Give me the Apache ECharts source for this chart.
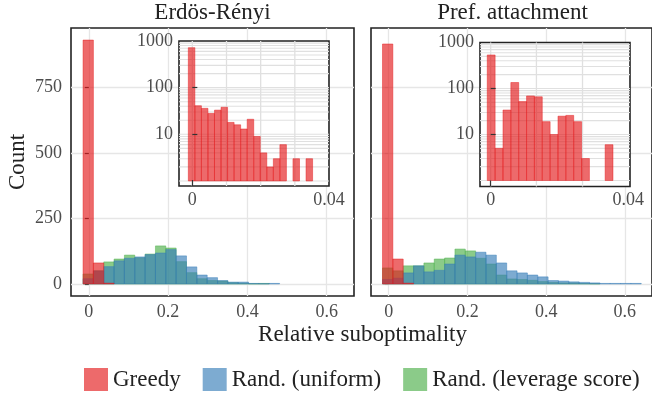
<!DOCTYPE html>
<html><head><meta charset="utf-8">
<script src="https://cdn.jsdelivr.net/npm/echarts@6/dist/echarts.min.js"></script>
<style>html,body{margin:0;padding:0;background:#fff}#c{width:652px;height:395px}</style>
</head><body><div id="c"></div>
<script>
// ---------- data ----------
const seriesNames = ['Greedy', 'Rand. (uniform)', 'Rand. (leverage score)'];
const panelTitles = ['Erdös-Rényi', 'Pref. attachment'];
const xLabelText = 'Relative suboptimality';
const yLabelText = 'Count';
const xTickValues = [0, 0.2, 0.4, 0.6];
const yTickValues = [0, 250, 500, 750];
const insetXTickValues = [0, 0.04];
const insetYTickValues = [10, 100, 1000];

// main histograms (shared bins per panel: first bin start, bin width)
const erBinStart = -0.0146, erBinWidth = 0.0261;
const erGreedy   = [930, 80, 3];
const erUniform  = [20, 50, 66, 88, 98, 103, 112, 118, 131, 107, 65, 34, 24, 13, 7, 7, 2, 1, 2];
const erLeverage = [38, 50, 84, 95, 110, 100, 114, 145, 137, 85, 43, 20, 13, 11, 5, 3, 1, 2, 0];

const paBinStart = -0.0158, paBinWidth = 0.0263;
const paGreedy   = [915, 95, 3];
const paUniform  = [17, 22, 42, 69, 46, 52, 76, 110, 103, 121, 110, 80, 50, 42, 34, 27, 13, 11, 8, 6, 4, 2, 2, 2, 2];
const paLeverage = [61, 50, 69, 69, 80, 95, 99, 133, 126, 98, 76, 34, 19, 17, 14, 9, 6, 4, 4, 2, 1, 0, 0, 0, 0];

// insets (Greedy only, log scale)
const erInsetBinStart = -0.00117, erInsetBinWidth = 0.001914;
const erInsetGreedy = [720, 41, 36, 28, 33, 38, 18, 16, 13, 21, 9, 4, 2, 3, 6, 0, 3, 0, 3];
const paInsetBinStart = -0.00099, paInsetBinWidth = 0.002284;
const paInsetGreedy = [536, 5, 34, 135, 52, 69, 66, 19, 10, 25, 26, 19, 3, 0, 0, 6];

// inset grid lines
const insetHGridValues = [1,2,3,4,5,6,7,8,9,10,20,30,40,50,60,70,80,90,100,200,300,400,500,600,700,800,900];
const erInsetVGridValues = [0, 0.01, 0.02, 0.03];
const paInsetVGridValues = [0, 0.0133, 0.0267];

// ---------- styles ----------
const FONT = "'Liberation Serif', 'DejaVu Serif', serif";
const FILL = {
  'Greedy': 'rgba(228,26,28,0.65)',
  'Rand. (uniform)': 'rgba(55,126,184,0.65)',
  'Rand. (leverage score)': 'rgba(77,175,74,0.65)'
};
const LEGEND_COLORS = ['#ed6a6b', '#7dabd1', '#8bcb89'];
const TICK_COLOR = '#4d4d4d';
const TEXT_COLOR = '#222';

function toBins(start, width, counts) {
  const out = [];
  counts.forEach((c, i) => { if (c > 0) out.push([start + i * width, start + (i + 1) * width, c]); });
  return out;
}

function hist(name, xi, yi, data, base, z) {
  const fill = FILL[name];
  return {
    type: 'custom', name, xAxisIndex: xi, yAxisIndex: yi, z, silent: true,
    data, encode: { x: [0, 1], y: 2 },
    renderItem: (p, api) => {
      const a = api.coord([api.value(0), api.value(2)]);
      const b = api.coord([api.value(1), base]);
      return { type: 'rect', shape: { x: a[0], y: a[1], width: b[0] - a[0], height: b[1] - a[1] },
               style: { fill, stroke: fill, lineWidth: 0.7 } };
    }
  };
}
function hGrid(xi, yi, vals, z) {
  return {
    type: 'custom', xAxisIndex: xi, yAxisIndex: yi, z, silent: true,
    data: vals.map(v => [0, v]), encode: { x: 0, y: 1 },
    renderItem: (p, api) => {
      const cs = p.coordSys; const y = api.coord([0, api.value(1)])[1];
      return { type: 'line', shape: { x1: cs.x, y1: y, x2: cs.x + cs.width, y2: y }, style: { stroke: '#e0e0e0', lineWidth: 1.1 } };
    }
  };
}
function vGrid(xi, yi, vals, z) {
  return {
    type: 'custom', xAxisIndex: xi, yAxisIndex: yi, z, silent: true,
    data: vals.map(v => [v, 1]), encode: { x: 0, y: 1 },
    renderItem: (p, api) => {
      const cs = p.coordSys; const x = api.coord([api.value(0), 1])[0];
      return { type: 'line', shape: { x1: x, y1: cs.y, x2: x, y2: cs.y + cs.height }, style: { stroke: '#e0e0e0', lineWidth: 1.3 } };
    }
  };
}

const labelStyle = { fontFamily: FONT, fontSize: 18, color: TICK_COLOR };
const fmt = v => String(Math.round(v * 1000) / 1000);

function mainX(gi) {
  return {
    type: 'value', gridIndex: gi, min: -0.045, max: 0.669,
    axisLine: { show: false },
    axisTick: { show: false, customValues: xTickValues },
    axisLabel: Object.assign({ customValues: xTickValues, margin: 7, formatter: fmt }, labelStyle),
    splitLine: { show: true, lineStyle: { color: '#e6e6e6', width: 1.3 } }
  };
}
function mainY(gi, showLabels) {
  return {
    type: 'value', gridIndex: gi, min: -46, max: 976,
    axisLine: { show: false },
    axisTick: { show: true, customValues: yTickValues, length: 4, lineStyle: { color: showLabels ? '#333' : '#d0d0d0', width: 1.2 } },
    axisLabel: Object.assign({ show: showLabels, customValues: yTickValues, margin: 9, formatter: fmt }, labelStyle),
    splitLine: { show: true, lineStyle: { color: '#e6e6e6', width: 1.3 } },
    name: showLabels ? yLabelText : '', nameLocation: 'middle', nameGap: 42, nameRotate: 90,
    nameTextStyle: { fontFamily: FONT, fontSize: 23, color: TEXT_COLOR }
  };
}
function insetX(gi, min, max) {
  return {
    type: 'value', gridIndex: gi, min, max, z: 6,
    axisLine: { show: false },
    axisTick: { show: true, inside: true, length: 6, customValues: [0], lineStyle: { color: '#333', width: 1.2 } },
    axisLabel: Object.assign({ customValues: insetXTickValues, margin: 5, formatter: fmt }, labelStyle),
    splitLine: { show: false }
  };
}
function insetY(gi, min, max) {
  return {
    type: 'log', logBase: 10, gridIndex: gi, min, max, z: 6,
    axisLine: { show: false },
    axisTick: { show: true, inside: true, length: 5, customValues: [10, 100], lineStyle: { color: '#333', width: 1.2 } },
    axisLabel: Object.assign({ customValues: insetYTickValues, margin: 6, formatter: v => String(Math.round(v)) }, labelStyle),
    splitLine: { show: false }, minorSplitLine: { show: false }
  };
}

const frame = { show: true, borderColor: '#222', borderWidth: 1.6 };
const titleStyle = { fontFamily: FONT, fontSize: 23, fontWeight: 'normal', color: TEXT_COLOR };
const option = {
  animation: false,
  backgroundColor: '#fff',
  title: [
    { text: panelTitles[0], left: 212.5, top: 1, textAlign: 'center', padding: 0, textStyle: titleStyle },
    { text: panelTitles[1], left: 512.5, top: 1, textAlign: 'center', padding: 0, textStyle: titleStyle },
    { text: xLabelText, left: 362.5, top: 323, textAlign: 'center', padding: 0, textStyle: titleStyle }
  ],
  legend: {
    left: 84, top: 368, itemWidth: 24, itemHeight: 23, itemGap: 22, icon: 'rect', padding: 0,
    selectedMode: false,
    textStyle: { fontFamily: FONT, fontSize: 23, color: TEXT_COLOR },
    data: seriesNames.map((n, i) => ({ name: n, icon: 'rect', itemStyle: { color: LEGEND_COLORS[i], borderWidth: 0 } }))
  },
  grid: [
    Object.assign({ left: 71, top: 28, width: 283, height: 268, z: 0 }, frame),
    Object.assign({ left: 371, top: 28, width: 283, height: 268, z: 0 }, frame),
    Object.assign({ left: 179, top: 41, width: 150, height: 145, z: 3, backgroundColor: '#fff' }, frame),
    Object.assign({ left: 480, top: 42.5, width: 150, height: 144, z: 3, backgroundColor: '#fff' }, frame)
  ],
  xAxis: [mainX(0), mainX(1), insetX(2, -0.0039, 0.04), insetX(3, -0.0031, 0.0405)],
  yAxis: [mainY(0, true), mainY(1, false), insetY(2, 0.78, 1000), insetY(3, 0.74, 1000)],
  series: [
    hist('Rand. (leverage score)', 0, 0, toBins(erBinStart, erBinWidth, erLeverage), 0, 2),
    hist('Rand. (uniform)', 0, 0, toBins(erBinStart, erBinWidth, erUniform), 0, 2),
    hist('Greedy', 0, 0, toBins(erBinStart, erBinWidth, erGreedy), 0, 2),
    hist('Rand. (leverage score)', 1, 1, toBins(paBinStart, paBinWidth, paLeverage), 0, 2),
    hist('Rand. (uniform)', 1, 1, toBins(paBinStart, paBinWidth, paUniform), 0, 2),
    hist('Greedy', 1, 1, toBins(paBinStart, paBinWidth, paGreedy), 0, 2),
    hGrid(2, 2, insetHGridValues, 4),
    vGrid(2, 2, erInsetVGridValues, 4),
    hGrid(3, 3, insetHGridValues, 4),
    vGrid(3, 3, paInsetVGridValues, 4),
    hist('Greedy', 2, 2, toBins(erInsetBinStart, erInsetBinWidth, erInsetGreedy), 1, 5),
    hist('Greedy', 3, 3, toBins(paInsetBinStart, paInsetBinWidth, paInsetGreedy), 1, 5)
  ]
};
const chart = echarts.init(document.getElementById('c'), null, { renderer: 'canvas' });
chart.setOption(option);
</script></body></html>
